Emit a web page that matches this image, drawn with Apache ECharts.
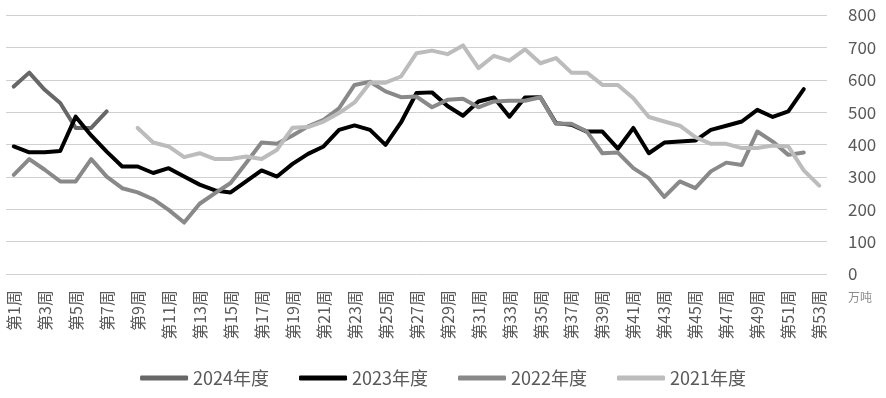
<!DOCTYPE html>
<html><head><meta charset="utf-8">
<script src="https://cdn.jsdelivr.net/npm/echarts@6/dist/echarts.min.js"></script>
<style>html,body{margin:0;padding:0;background:#fff}#c{width:886px;height:398px}</style>
</head><body><div id="c"></div>
<script>
const weeks = [];
for (let i = 1; i <= 53; i++) weeks.push('第' + i + '周');
const seriesNames = ['2024年度', '2023年度', '2022年度', '2021年度'];
const yTicks = [0, 100, 200, 300, 400, 500, 600, 700, 800];
const unitLabel = '万吨';
const n = null;
const y2024 = [579,622,569,528,451,451,502,n,n,n,n,n,n,n,n,n,n,n,n,n,n,n,n,n,n,n,n,n,n,n,n,n,n,n,n,n,n,n,n,n,n,n,n,n,n,n,n,n,n,n,n,n,n];
const y2023 = [394,376,376,380,486,428,378,332,332,312,327,301,276,258,252,286,320,301,340,371,394,445,459,445,399,468,559,561,519,489,533,545,486,545,546,466,461,440,440,387,451,373,406,409,412,445,458,471,507,485,502,571,n];
const y2022 = [306,355,322,286,286,355,301,265,252,231,198,159,217,250,281,343,406,402,428,456,476,512,584,594,564,546,548,515,538,541,515,533,535,535,546,464,464,440,373,375,327,296,238,286,265,317,344,337,440,409,368,375,n];
const y2021 = [n,n,n,n,n,n,n,n,451,406,394,361,373,355,355,363,355,384,452,454,471,497,530,591,591,610,682,690,679,706,636,674,659,694,651,667,622,622,584,584,543,485,471,458,423,402,402,389,389,397,394,320,273];
const colors = ['#676767', '#000000', '#898989', '#bcbcbc'];
const dataList = [y2024, y2023, y2022, y2021];
const font = '"Noto Sans CJK SC", "Noto Sans", sans-serif';

const chart = echarts.init(document.getElementById('c'));
chart.setOption({
  animation: false,
  color: colors,
  grid: { left: 6, right: 59, top: 15, bottom: 124, containLabel: false },
  legend: {
    bottom: 6,
    left: 'center',
    icon: 'roundRect',
    itemWidth: 48,
    itemHeight: 5,
    itemGap: 30,
    textStyle: { fontFamily: font, fontSize: 18, color: '#595959' },
    data: seriesNames
  },
  graphic: [{
    type: 'text',
    left: 848,
    top: 291,
    style: { text: unitLabel, font: '12px "Noto Sans CJK SC", sans-serif', fill: '#8c8c8c' }
  }],
  xAxis: {
    type: 'category',
    data: weeks,
    boundaryGap: true,
    axisLine: { show: false },
    axisTick: { show: false },
    axisLabel: { interval: 1, rotate: 90, margin: 16, fontFamily: font, fontSize: 16, color: '#595959' }
  },
  yAxis: {
    type: 'value',
    position: 'right',
    min: yTicks[0], max: yTicks[yTicks.length - 1], interval: 100,
    axisLine: { show: false },
    axisTick: { show: false },
    splitLine: { lineStyle: { color: '#d0d0d0', width: 1 } },
    axisLabel: { margin: 21, fontFamily: font, fontSize: 17, color: '#595959' }
  },
  series: seriesNames.map((name, i) => ({
    name: name,
    type: 'line',
    data: dataList[i],
    symbol: 'none',
    connectNulls: false,
    lineStyle: { width: 4, color: colors[i], cap: 'round', join: 'round' },
    itemStyle: { color: colors[i] }
  }))
});
</script>
</body></html>
